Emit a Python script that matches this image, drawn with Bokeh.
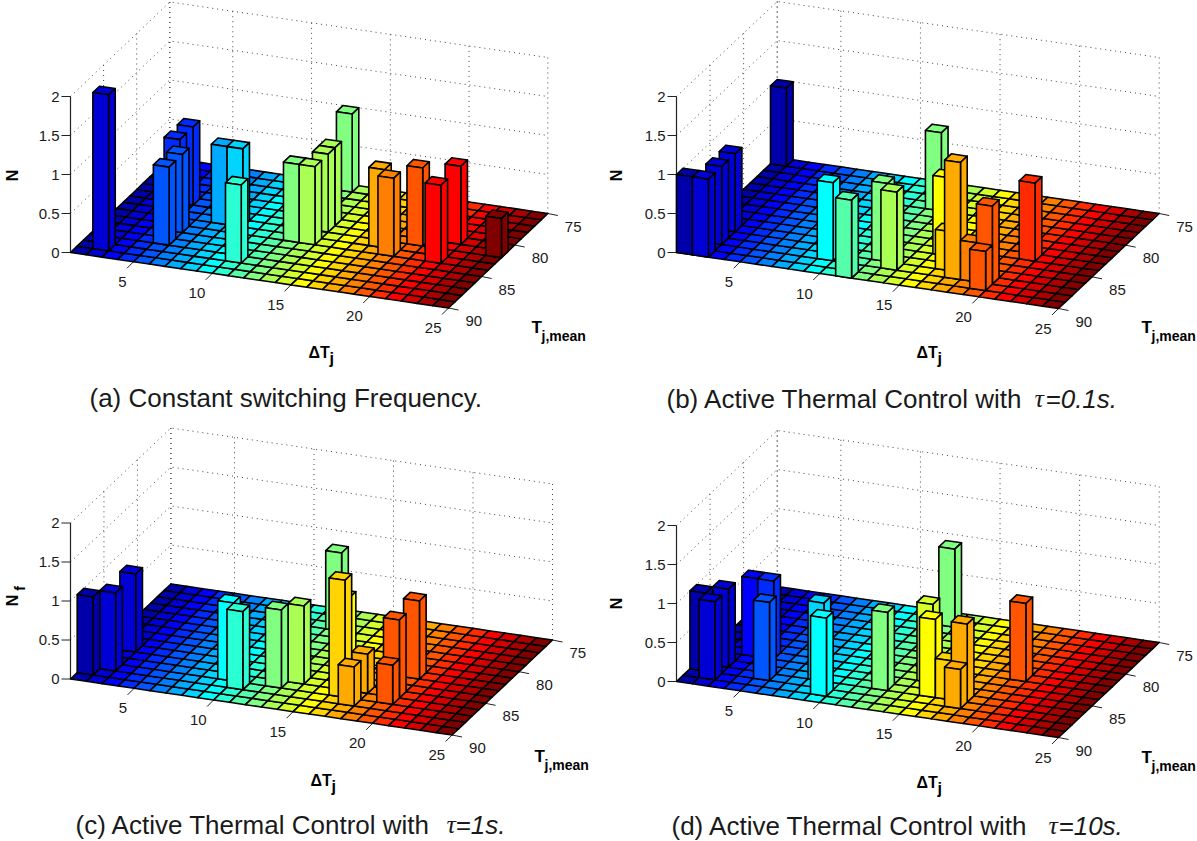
from bokeh.plotting import figure
from bokeh.models import Range1d
from bokeh.core.properties import value
from bokeh.embed import file_html
from bokeh.resources import INLINE

# cell start (dT), cell start (Tj), height
a_dT = [2, 5, 5, 4, 4, 7, 8, 10, 12, 13, 13, 13, 12, 17, 18, 19, 21, 21, 24]
a_Tj = [89, 87, 85, 83, 81, 83, 83, 88, 84, 84, 82, 81, 76, 83, 84, 82, 84, 81, 82]
a_N = [2, 1, 1, 1, 1, 1, 1, 1, 1, 1, 1, 1, 1, 1, 1, 1, 1, 1, 0.5]

b_dT = [1, 2, 2, 2, 1, 9, 11, 12, 13, 12, 15, 16, 17, 18, 19, 19, 20]
b_Tj = [90, 90, 88, 86, 76, 88, 90, 87, 88, 79, 85, 87, 88, 88, 89, 88, 84]
b_N = [1, 1, 1, 1, 1, 1, 1, 1, 1, 1, 1, 0.5, 1.5, 0.5, 0.5, 1, 1]

c_dT = [1, 2, 2, 9, 10, 12, 13, 12, 16, 15, 17, 17, 19, 19, 19]
c_Tj = [89, 88, 85, 87, 88, 87, 86, 78, 87, 84, 86, 88, 87, 86, 83]
c_N = [1, 1, 1, 1, 1, 1, 1, 1, 1.5, 1, 0.5, 0.5, 0.5, 1, 1]

d_dT = [1, 2, 2, 3, 4, 5, 8, 9, 12, 12, 14, 15, 16, 17, 17, 19]
d_Tj = [88, 89, 87, 85, 85, 88, 87, 89, 87, 77, 85, 87, 87, 87, 88, 83]
d_N = [1, 1, 1, 1, 1, 1, 1, 1, 1, 1, 1, 1, 0.5, 1, 0.5, 1]

dT_ticks = [5, 10, 15, 20, 25]
Tj_ticks = [75, 80, 85, 90]
N_ticks = [0, 0.5, 1, 1.5, 2]
N_labels = ["0", "0.5", "1", "1.5", "2"]
jet = ["#0000aa", "#0000d4", "#0000ff", "#002bff", "#0055ff", "#0080ff", "#00aaff", "#00d4ff",
       "#00ffff", "#2bffd4", "#55ffaa", "#80ff80", "#aaff55", "#d4ff2b", "#ffff00", "#ffd400",
       "#ffaa00", "#ff8000", "#ff5500", "#ff2b00", "#ff0000", "#d40000", "#aa0000", "#800000"]

DT0, DT1, TJ0, TJ1 = 1, 25, 90, 75
FONT = "Liberation Sans"
p = figure(width=1197, height=841, x_range=Range1d(0, 1197), y_range=Range1d(841, 0),
           output_backend="svg", toolbar_location=None, min_border=0, outline_line_color=None,
           background_fill_color="white", border_fill_color="white")
p.axis.visible = False
p.grid.visible = False


def txt(x, y, s, size, bold=False, italic=False, align="left", font=FONT, angle=0, color="#1a1a1a"):
    style = "bold" if bold else ("italic" if italic else "normal")
    p.text([x], [y], text=[s], text_font=value(font), text_font_size=value(f"{size}px"),
           text_font_style=style, text_align=align, text_baseline="middle",
           angle=angle, text_color=color)


def panel(L, F, R, dTs, Tjs, Ns, ylabel, sub, lab_x, lab_y, tj_x, tj_y, dt_x, dt_y):
    ex = ((F[0] - L[0]) / (DT1 - DT0), (F[1] - L[1]) / (DT1 - DT0))
    ey = ((R[0] - F[0]) / (TJ0 - TJ1), (R[1] - F[1]) / (TJ0 - TJ1))
    ez = 78.0

    def P(dt, tj, z=0.0):
        a, b = dt - DT0, TJ0 - tj
        return L[0] + a * ex[0] + b * ey[0], L[1] + a * ex[1] + b * ey[1] - z * ez

    # dotted walls
    wx, wy = [], []
    for z in N_ticks:
        A, B, C = P(DT0, TJ0, z), P(DT0, TJ1, z), P(DT1, TJ1, z)
        wx.append([A[0], B[0], C[0]])
        wy.append([A[1], B[1], C[1]])
    for t in dT_ticks:
        A, B = P(t, TJ1, 0), P(t, TJ1, 2)
        wx.append([A[0], B[0]]); wy.append([A[1], B[1]])
    for t in Tj_ticks[:-1]:
        A, B = P(DT0, t, 0), P(DT0, t, 2)
        wx.append([A[0], B[0]]); wy.append([A[1], B[1]])
    A, B = P(DT0, TJ1, 0), P(DT0, TJ1, 2)
    wx.append([A[0], B[0]]); wy.append([A[1], B[1]])
    p.multi_line(wx, wy, line_color="#444444", line_width=1, line_dash="1 4")

    # axis lines and ticks
    A, B = P(DT0, TJ0, 0), P(DT0, TJ0, 2)
    p.line([A[0], B[0]], [A[1], B[1]], line_color="#222222", line_width=1.2)
    for z, s in zip(N_ticks, N_labels):
        A = P(DT0, TJ0, z)
        p.line([A[0] - 9, A[0]], [A[1], A[1]], line_color="#222222", line_width=1)
        txt(A[0] - 11, A[1], s, 15, align="right")
    for t in dT_ticks:
        A = P(t, TJ0)
        p.line([A[0] - 6.5, A[0]], [A[1] + 6.5, A[1]], line_color="#222222", line_width=1)
        txt(A[0] - 7, A[1] + 20, str(t), 15, align="right")
    for t in Tj_ticks:
        A = P(DT1, t)
        p.line([A[0], A[0] + 10], [A[1], A[1] + 2], line_color="#222222", line_width=1)
        txt(A[0] + 17, A[1] + 13, str(t), 15)

    # floor then bars, far to near
    xs, ys, cs = [], [], []

    def face(pts, col):
        xs.append([q[0] for q in pts]); ys.append([q[1] for q in pts]); cs.append(col)

    for i in range(DT1 - DT0):
        for j in range(TJ0 - TJ1):
            d, t = DT0 + i, TJ0 - j
            face([P(d, t), P(d + 1, t), P(d + 1, t - 1), P(d, t - 1)], jet[i])
    for d, t, n in sorted(zip(dTs, Tjs, Ns), key=lambda r: (r[1], r[0])):
        c = jet[d - DT0]
        face([P(d, t, n), P(d + 1, t, n), P(d + 1, t - 1, n), P(d, t - 1, n)], c)
        face([P(d + 1, t, 0), P(d + 1, t - 1, 0), P(d + 1, t - 1, n), P(d + 1, t, n)], c)
        face([P(d, t, 0), P(d + 1, t, 0), P(d + 1, t, n), P(d, t, n)], c)
    p.patches(xs, ys, fill_color=cs, line_color="#000000", line_width=1.6, line_join="round")

    # axis titles
    txt(lab_x, lab_y, ylabel, 16, bold=True, align="center", angle=1.5708, color="#000000")
    if sub:
        txt(lab_x + 7, lab_y - 12, sub, 14, bold=True, align="center", angle=1.5708, color="#000000")
    txt(tj_x, tj_y, "T", 17, bold=True, color="#000000")
    txt(tj_x + 10, tj_y + 8, "j,mean", 14, bold=True, color="#000000")
    txt(dt_x, dt_y, "\u0394T", 16, bold=True, color="#000000")
    txt(dt_x + 21, dt_y + 6, "j", 16, bold=True, color="#000000")


panel((70, 252), (448, 307.5), (547.3, 213), a_dT, a_Tj, a_N, "N", "", 11.5, 175, 531, 327, 308, 352)
panel((676, 252), (1058, 308), (1158.7, 213), b_dT, b_Tj, b_N, "N", "", 616, 175, 1141, 327, 916, 352)
panel((70, 678.5), (451.6, 734.5), (552, 639.5), c_dT, c_Tj, c_N, "N", "f", 12, 600, 534, 756, 310, 780)
panel((676, 681), (1058, 737), (1158.7, 642), d_dT, d_Tj, d_N, "N", "", 616, 603, 1141, 757, 916, 782)

CAP = 26
txt(89, 397, "(a) Constant switching Frequency.", CAP)
txt(666, 398, "(b) Active Thermal Control with", CAP)
txt(1034, 398, "\u03c4", CAP, italic=True, font="Liberation Serif")
txt(1045, 398, "=0.1s.", CAP, italic=True)
txt(75, 824, "(c) Active Thermal Control with", CAP)
txt(446, 824, "\u03c4", CAP, italic=True, font="Liberation Serif")
txt(455, 824, "=1s.", CAP, italic=True)
txt(671, 825, "(d) Active Thermal Control with", CAP)
txt(1048, 825, "\u03c4", CAP, italic=True, font="Liberation Serif")
txt(1058, 825, "=10s.", CAP, italic=True)

open("out.html", "w").write(file_html(p, INLINE))
